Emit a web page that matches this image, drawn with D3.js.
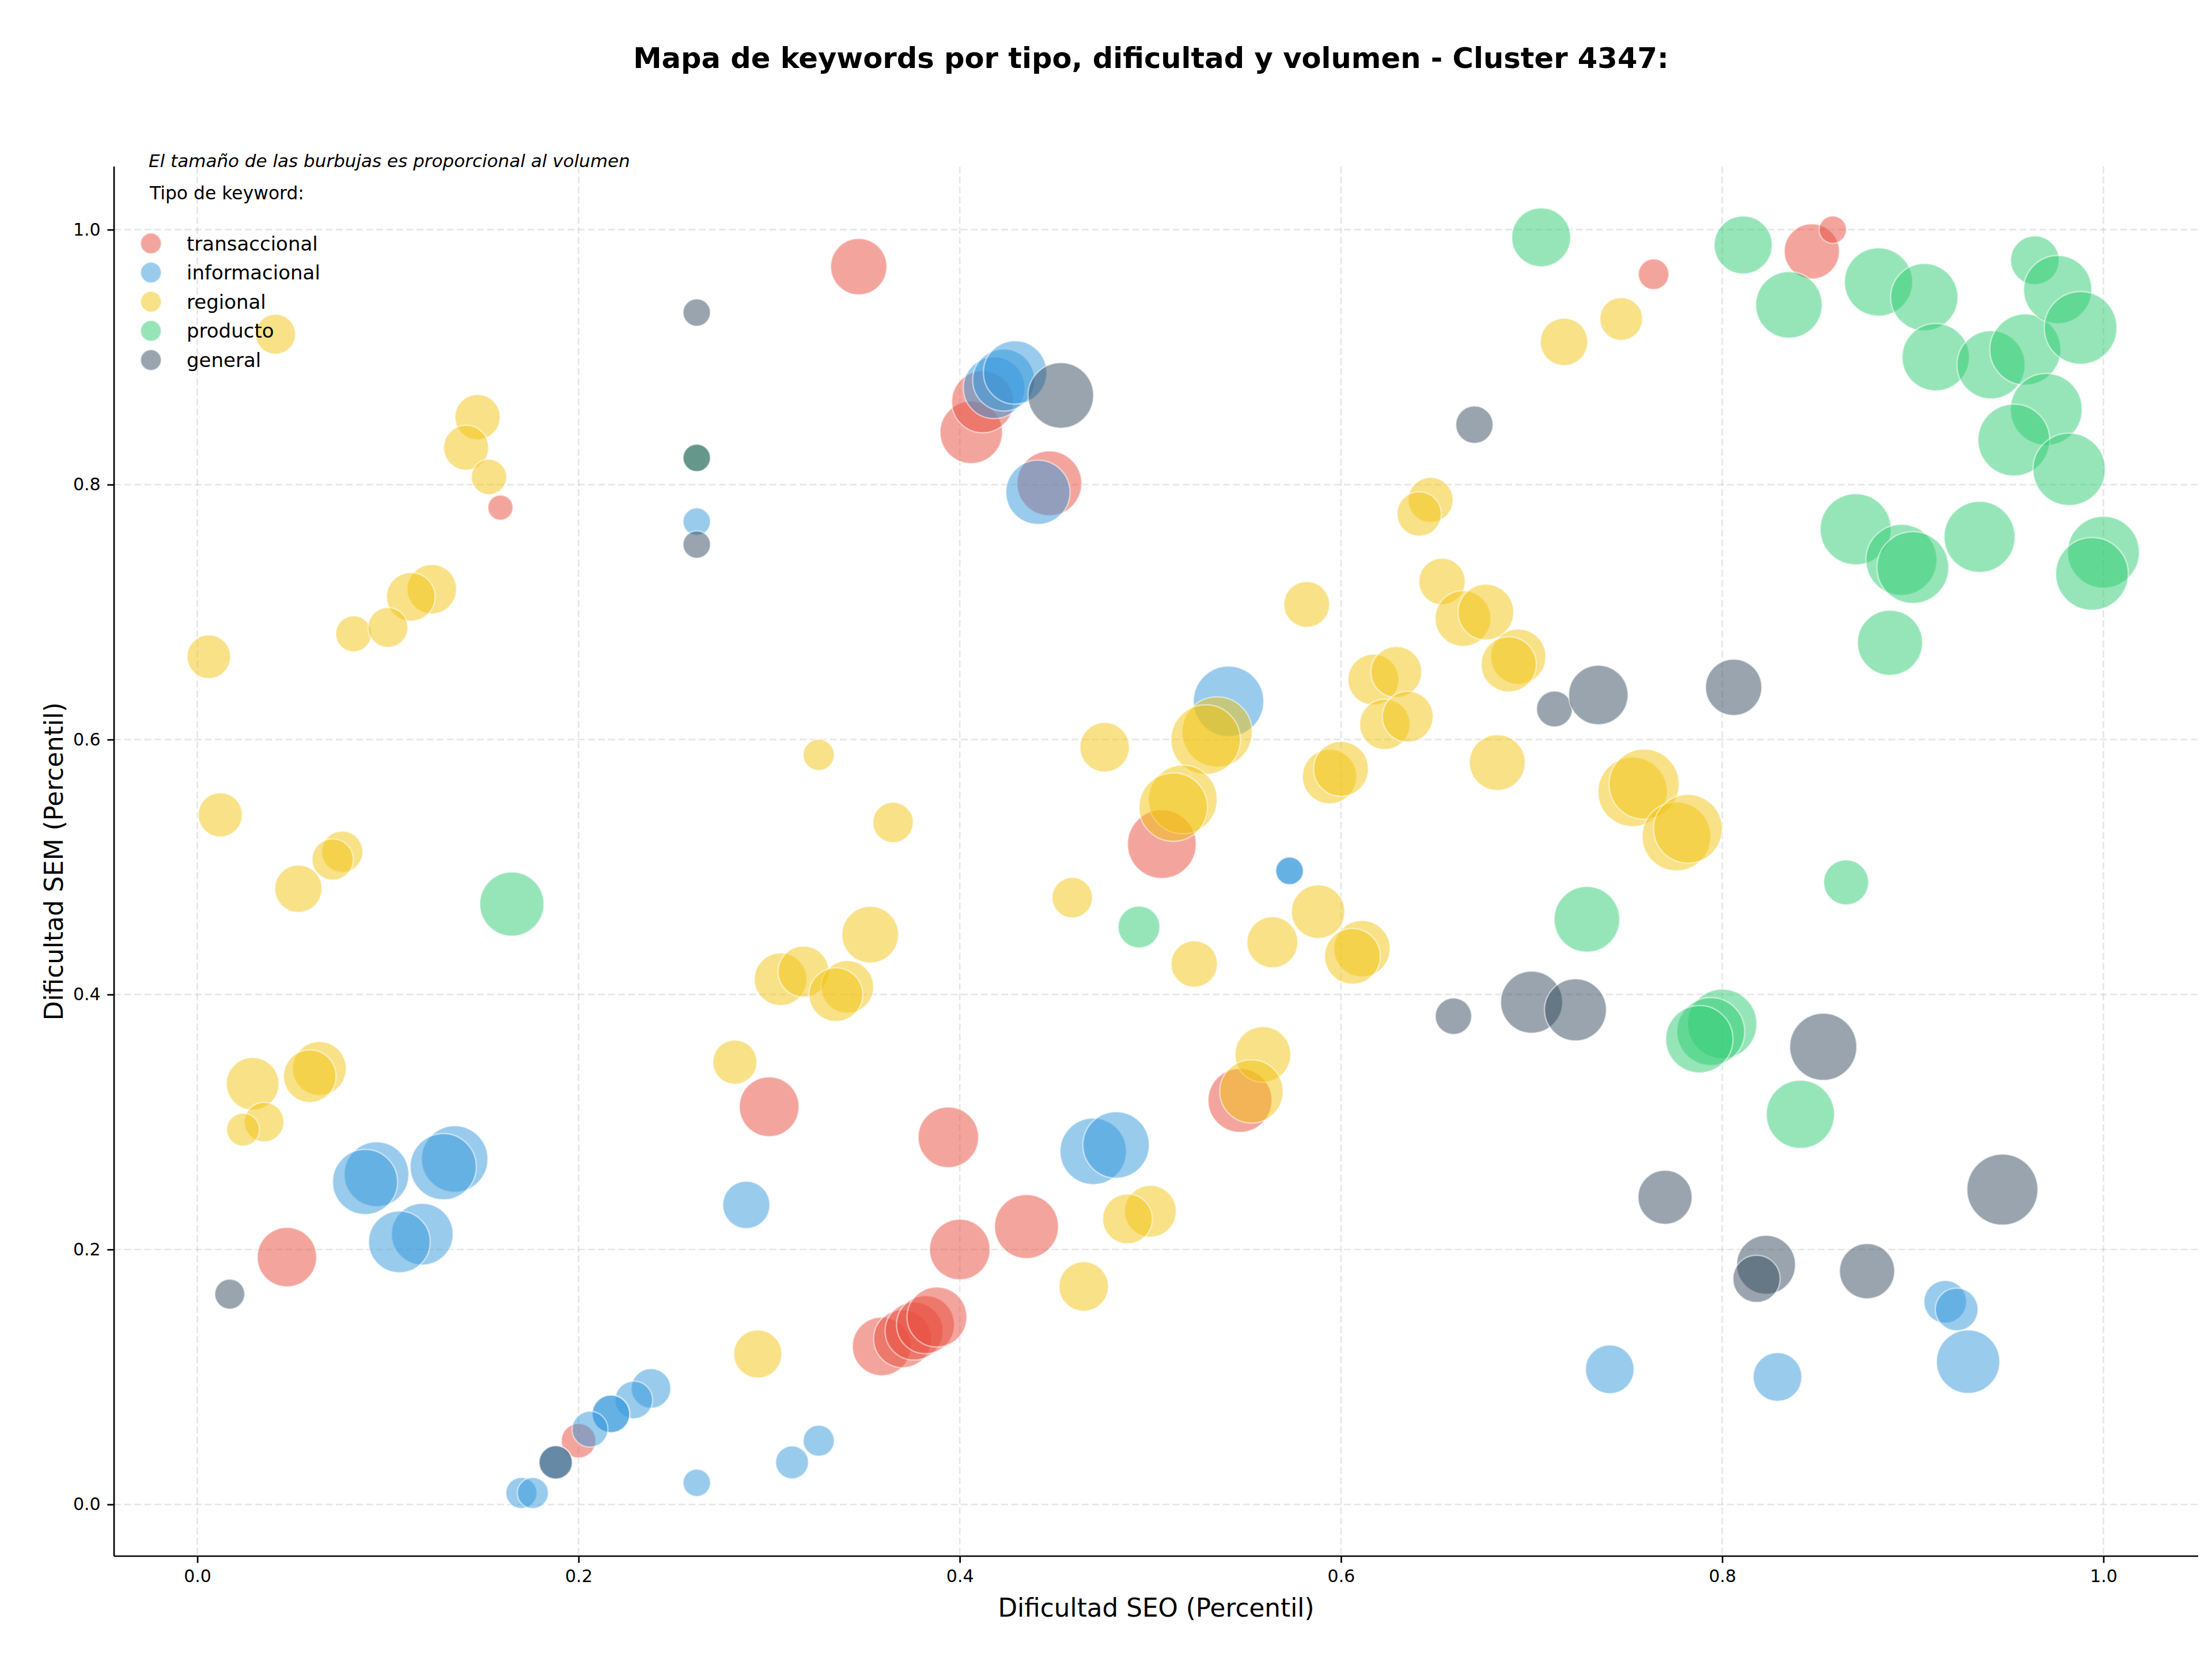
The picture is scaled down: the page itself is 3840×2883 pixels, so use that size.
<!DOCTYPE html>
<html>
<head>
<meta charset="utf-8">
<script src="https://cdn.jsdelivr.net/npm/d3@7"></script>
<style>
  body { margin: 0; background: #fff; }
  text { font-family: "DejaVu Sans", sans-serif; }
</style>
</head>
<body>
<div id="chart"></div>
<script>
// keyword types, in drawing order
var tipos = ["transaccional", "informacional", "regional", "producto", "general"];
var colores = ["#e74c3c", "#3498db", "#f1c40f", "#2ecc71", "#34495e"];
var ticks = [0.0, 0.2, 0.4, 0.6, 0.8, 1.0];

// [dificultad SEO, dificultad SEM, volumen]
var transaccional = [
  [0.159, 0.782, 790], [0.347, 0.971, 3960], [0.406, 0.841, 4880], [0.412, 0.865, 4800], [0.447, 0.801, 5240],
  [0.764, 0.965, 1170], [0.847, 0.983, 3800], [0.858, 1.000, 940], [0.506, 0.518, 5900], [0.547, 0.317, 5110],
  [0.300, 0.312, 4450], [0.394, 0.288, 4580], [0.435, 0.218, 5110], [0.400, 0.200, 4580], [0.047, 0.194, 4410],
  [0.359, 0.124, 4280], [0.370, 0.130, 4200], [0.376, 0.136, 4200], [0.382, 0.141, 4200], [0.388, 0.147, 4490],
  [0.200, 0.050, 1490]
];
var informacional = [
  [0.262, 0.771, 940], [0.418, 0.876, 4750], [0.423, 0.882, 4800], [0.429, 0.888, 5020], [0.441, 0.794, 5150],
  [0.541, 0.630, 6200], [0.573, 0.497, 960], [0.573, 0.497, 960], [0.094, 0.259, 5240], [0.088, 0.253, 5290],
  [0.135, 0.271, 5520], [0.129, 0.265, 5480], [0.118, 0.212, 4750], [0.106, 0.206, 4750], [0.288, 0.235, 2790],
  [0.470, 0.277, 5520], [0.482, 0.282, 5520], [0.238, 0.091, 1960], [0.229, 0.082, 1770], [0.217, 0.071, 1770],
  [0.217, 0.071, 1770], [0.206, 0.059, 1610], [0.188, 0.033, 1390], [0.170, 0.009, 1210], [0.176, 0.009, 1210],
  [0.262, 0.017, 940], [0.312, 0.033, 1350], [0.326, 0.050, 1210], [0.917, 0.159, 2280], [0.923, 0.153, 2280],
  [0.929, 0.112, 5020], [0.741, 0.106, 2960], [0.829, 0.100, 2960]
];
var regional = [
  [0.041, 0.918, 1990], [0.147, 0.853, 2560], [0.141, 0.829, 2530], [0.153, 0.806, 1560], [0.123, 0.718, 3060],
  [0.112, 0.712, 2960], [0.082, 0.683, 1610], [0.100, 0.688, 1990], [0.006, 0.665, 2370], [0.012, 0.541, 2430],
  [0.076, 0.512, 2130], [0.071, 0.506, 2130], [0.053, 0.483, 2790], [0.326, 0.588, 1210], [0.306, 0.412, 3460],
  [0.318, 0.418, 3240], [0.353, 0.447, 4000], [0.341, 0.406, 3460], [0.335, 0.400, 3610], [0.029, 0.330, 3460],
  [0.064, 0.342, 3610], [0.059, 0.336, 3460], [0.035, 0.300, 1960], [0.024, 0.294, 1350], [0.294, 0.118, 2890],
  [0.282, 0.347, 2430], [0.559, 0.353, 3880], [0.553, 0.324, 5020], [0.500, 0.230, 3350], [0.488, 0.224, 3100],
  [0.465, 0.171, 3060], [0.647, 0.788, 2530], [0.641, 0.777, 2460], [0.582, 0.706, 2620], [0.653, 0.724, 2690],
  [0.664, 0.695, 3880], [0.676, 0.700, 3880], [0.693, 0.665, 3800], [0.688, 0.659, 3800], [0.535, 0.606, 6150],
  [0.529, 0.600, 6050], [0.517, 0.553, 5900], [0.512, 0.547, 5860], [0.476, 0.594, 3060], [0.365, 0.535, 2040],
  [0.459, 0.476, 2040], [0.523, 0.424, 2690], [0.564, 0.441, 3240], [0.588, 0.465, 3570], [0.611, 0.436, 3960],
  [0.606, 0.430, 3880], [0.594, 0.571, 3690], [0.600, 0.577, 3760], [0.617, 0.647, 3240], [0.629, 0.653, 3240],
  [0.623, 0.612, 3170], [0.635, 0.618, 3240], [0.682, 0.582, 3880], [0.753, 0.559, 6000], [0.759, 0.565, 6150],
  [0.776, 0.524, 5900], [0.782, 0.530, 5900], [0.747, 0.930, 2280], [0.717, 0.912, 2820]
];
var producto = [
  [0.262, 0.821, 940], [0.165, 0.471, 5150], [0.494, 0.453, 2190], [0.888, 0.676, 5290], [0.865, 0.488, 2530],
  [0.729, 0.459, 5380], [0.800, 0.377, 6000], [0.794, 0.371, 5760], [0.788, 0.365, 5660], [0.841, 0.306, 5810],
  [0.705, 0.994, 4330], [0.811, 0.988, 4200], [0.835, 0.941, 5520], [0.882, 0.959, 5810], [0.906, 0.947, 5660],
  [0.912, 0.900, 5660], [0.941, 0.894, 5810], [0.959, 0.906, 6300], [0.964, 0.976, 2960], [0.976, 0.953, 5810],
  [0.988, 0.923, 6600], [0.970, 0.859, 6450], [0.953, 0.835, 6450], [0.982, 0.812, 6550], [0.870, 0.765, 6300],
  [0.894, 0.741, 6300], [0.900, 0.735, 6450], [0.935, 0.759, 6300], [1.000, 0.747, 6450], [0.994, 0.730, 6600]
];
var general = [
  [0.262, 0.935, 940], [0.262, 0.821, 940], [0.262, 0.753, 940], [0.453, 0.870, 5380], [0.670, 0.847, 1740],
  [0.017, 0.165, 1120], [0.712, 0.624, 1610], [0.735, 0.635, 4410], [0.806, 0.641, 3960], [0.700, 0.394, 4800],
  [0.723, 0.388, 4800], [0.659, 0.383, 1660], [0.853, 0.359, 5620], [0.770, 0.241, 3650], [0.947, 0.247, 6300],
  [0.823, 0.188, 4330], [0.818, 0.177, 2790], [0.876, 0.183, 3800], [0.188, 0.033, 1390]
];

var series = [transaccional, informacional, regional, producto, general];

// flat list of points
var data = [];
series.forEach(function (s, i) {
  s.forEach(function (d) {
    data.push({ seo: d[0], sem: d[1], vol: d[2], tipo: i });
  });
});

var W = 3840, H = 2883;
var margin = { top: 289, right: 24, bottom: 182, left: 198 },
    width = W - margin.left - margin.right,
    height = H - margin.top - margin.bottom;

var svg = d3.select("#chart")
    .append("svg")
    .attr("width", W)
    .attr("height", H)
    .style("background", "#fff");

var g = svg.append("g")
    .attr("transform", "translate(" + margin.left + "," + margin.top + ")");

// scales with 5% padding like matplotlib
function padded(ext) {
  var p = (ext[1] - ext[0]) * 0.05;
  return [ext[0] - p, ext[1] + p];
}
var x = d3.scaleLinear()
    .domain(padded(d3.extent(data, function (d) { return d.seo; })))
    .range([0, width]);
var y = d3.scaleLinear()
    .domain(padded(d3.extent(data, function (d) { return d.sem; })))
    .range([height, 0]);
var r = d3.scaleSqrt()
    .domain([0, d3.max(data, function (d) { return d.vol; })])
    .range([0, 63]);

// grid
var grid = g.append("g");
grid.selectAll(".vx").data(ticks).enter().append("line")
    .attr("x1", function (d) { return x(d); }).attr("x2", function (d) { return x(d); })
    .attr("y1", 0).attr("y2", height);
grid.selectAll(".hy").data(ticks).enter().append("line")
    .attr("y1", function (d) { return y(d); }).attr("y2", function (d) { return y(d); })
    .attr("x1", 0).attr("x2", width);
grid.selectAll("line")
    .style("stroke", "#b0b0b0")
    .style("stroke-opacity", 0.3)
    .style("stroke-width", 2.7)
    .style("stroke-dasharray", "12,5.5");

// bubbles
g.append("g")
    .selectAll("circle")
    .data(data)
    .enter()
    .append("circle")
    .attr("cx", function (d) { return x(d.seo); })
    .attr("cy", function (d) { return y(d.sem); })
    .attr("r", function (d) { return r(d.vol); })
    .style("fill", function (d) { return colores[d.tipo]; })
    .style("fill-opacity", 0.5)
    .style("stroke", "#fff")
    .style("stroke-opacity", 0.5)
    .style("stroke-width", 2.5);

// axes
var xAxis = g.append("g")
    .attr("transform", "translate(0," + height + ")")
    .call(d3.axisBottom(x).tickValues(ticks).tickFormat(d3.format(".1f")).tickSizeOuter(0).tickSize(11.7).tickPadding(11.7));
var yAxis = g.append("g")
    .call(d3.axisLeft(y).tickValues(ticks).tickFormat(d3.format(".1f")).tickSizeOuter(0).tickSize(11.7).tickPadding(11.7));
[xAxis, yAxis].forEach(function (a) {
  a.selectAll("text").style("font-size", "30px").style("font-family", "DejaVu Sans").attr("fill", "#000");
  a.selectAll("line").style("stroke", "#000").style("stroke-width", 2.7);
  a.select(".domain").style("stroke", "#000").style("stroke-width", 2.7);
});
// full-length spines
xAxis.select(".domain").attr("d", "M0,0H" + width);
yAxis.select(".domain").attr("d", "M0,0V" + height);

// axis labels
svg.append("text")
    .attr("text-anchor", "middle")
    .attr("x", margin.left + width / 2)
    .attr("y", 2806)
    .style("font-size", "43.7px")
    .text("Dificultad SEO (Percentil)");

svg.append("text")
    .attr("text-anchor", "middle")
    .attr("transform", "translate(109," + (margin.top + height / 2) + ") rotate(-90)")
    .style("font-size", "43.7px")
    .text("Dificultad SEM (Percentil)");

// title
svg.append("text")
    .attr("text-anchor", "middle")
    .attr("x", 1998)
    .attr("y", 118)
    .style("font-size", "49.6px")
    .style("font-weight", "bold")
    .text("Mapa de keywords por tipo, dificultad y volumen - Cluster 4347:");

// note and legend
svg.append("text")
    .attr("x", 258)
    .attr("y", 290)
    .style("font-size", "31px")
    .style("font-style", "italic")
    .text("El tamaño de las burbujas es proporcional al volumen");

svg.append("text")
    .attr("x", 260)
    .attr("y", 346)
    .style("font-size", "31.4px")
    .text("Tipo de keyword:");

var legend = svg.append("g")
    .selectAll("g")
    .data(tipos)
    .enter()
    .append("g")
    .attr("transform", function (d, i) { return "translate(262," + (422.5 + i * 50.6) + ")"; });
legend.append("circle")
    .attr("r", 18)
    .style("fill", function (d, i) { return colores[i]; })
    .style("fill-opacity", 0.5)
    .style("stroke", "#fff")
    .style("stroke-opacity", 0.5)
    .style("stroke-width", 2.5);
legend.append("text")
    .attr("x", 62)
    .attr("y", 12)
    .style("font-size", "34px")
    .text(function (d) { return d; });
</script>
</body>
</html>
